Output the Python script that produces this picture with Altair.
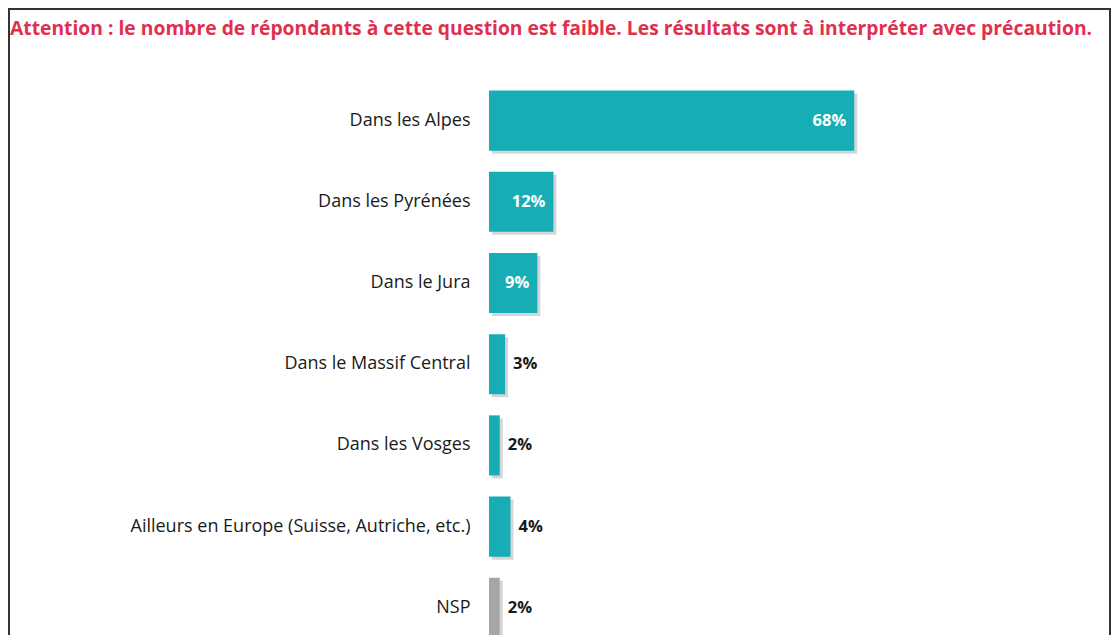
import altair as alt
import pandas as pd

categories = [
    "Dans les Alpes",
    "Dans les Pyrénées",
    "Dans le Jura",
    "Dans le Massif Central",
    "Dans les Vosges",
    "Ailleurs en Europe (Suisse, Autriche, etc.)",
    "NSP",
]
values = [68, 12, 9, 3, 2, 4, 2]
bar_colors = ["#16AEB4"] * 6 + ["#A6A6A6"]
warning = ("Attention : le nombre de répondants à cette question est faible. "
           "Les résultats sont à interpréter avec précaution.")

df = pd.DataFrame({"cat": categories, "v": values})

FONT = "Open Sans"
W, H = 622, 555

y_enc = alt.Y("cat:N", sort=categories, title=None,
              scale=alt.Scale(domain=categories, range=[0, 568.4],
                              paddingInner=0.26, paddingOuter=0.13),
              axis=alt.Axis(ticks=False, domain=False, grid=False, labelPadding=19,
                            labelFontSize=18, labelFont=FONT,
                            labelColor="#1a1a1a", labelLimit=470))
x_enc = alt.X("v:Q", title=None, axis=None,
              scale=alt.Scale(domain=[0, 115.8], nice=False, zero=True))

base = alt.Chart(df).transform_calculate(label="datum.v + '%'")

shadow = base.mark_bar(color="#777777", opacity=0.3, clip=True,
                       xOffset=3, x2Offset=2, yOffset=3, y2Offset=3).encode(
    x=x_enc, y=y_enc)

bars = base.mark_bar(clip=True).encode(
    x=x_enc, y=y_enc,
    color=alt.Color("cat:N", scale=alt.Scale(domain=categories, range=bar_colors),
                    legend=None))

inside = base.transform_filter("datum.v >= 9").mark_text(
    align="right", baseline="middle", dx=-8, font=FONT, fontSize=16.5,
    fontWeight="bold", color="white").encode(x=x_enc, y=y_enc, text="label:N")

outside = base.transform_filter("datum.v < 9").mark_text(
    align="left", baseline="middle", dx=8, font=FONT, fontSize=16.5,
    fontWeight="bold", color="#1a1a1a").encode(x=x_enc, y=y_enc, text="label:N")

title_df = pd.DataFrame({"t": [warning]})
title = alt.Chart(title_df).mark_text(
    align="left", baseline="alphabetic", font=FONT, fontSize=19.3,
    fontWeight="bold", color="#E0304E").encode(
    x=alt.value(-479), y=alt.value(-45), text="t:N")

frame = alt.Chart(title_df).mark_rect(
    fill="transparent", stroke="#333333", strokeWidth=2).encode(
    x=alt.value(-480), x2=alt.value(621), y=alt.value(-71), y2=alt.value(620))

chart = alt.layer(frame, shadow, bars, inside, outside, title).properties(
    width=W, height=H,
    autosize=alt.AutoSizeParams(type="none"),
    padding={"left": 481, "top": 72, "right": 0, "bottom": 0},
).configure(
    background="white",
    view=alt.ViewConfig(strokeWidth=0, stroke="transparent"),
)

chart.save("out.html", embed_options={"renderer": "svg", "actions": False})
